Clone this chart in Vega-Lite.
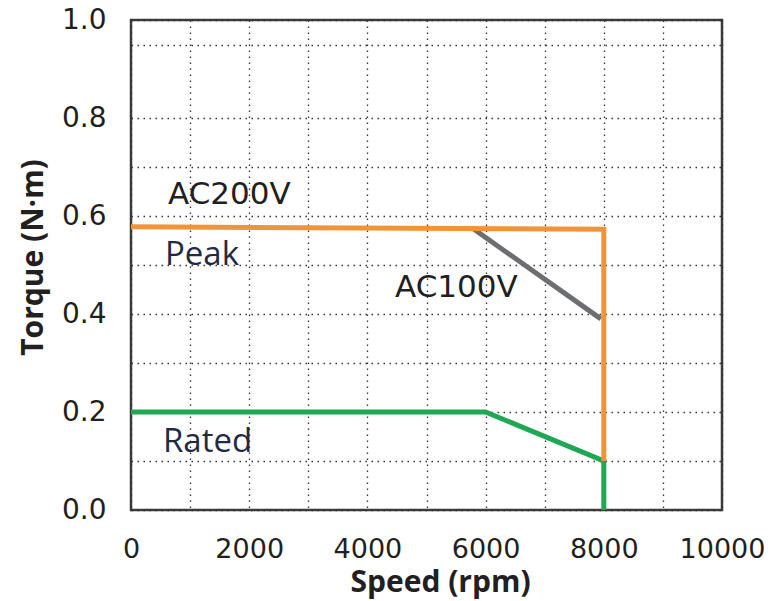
{
  "$schema": "https://vega.github.io/schema/vega-lite/v6.json",
  "width": 591,
  "height": 490,
  "autosize": {"type": "none"},
  "padding": {"left": 131, "top": 20, "right": 53, "bottom": 91},
  "background": "white",
  "config": {
    "view": {"stroke": "#3b3b3b", "strokeWidth": 2.5},
    "axis": {
      "ticks": false,
      "tickSize": 0,
      "domain": false,
      "grid": true,
      "gridColor": "#333333",
      "gridDash": [1.5, 4.5],
      "gridWidth": 1.3,
      "labelFont": "DejaVu Sans",
      "labelFontSize": 28,
      "labelColor": "#231f20",
      "labelOverlap": false,
      "labelFlush": false,
      "titleFont": "Open Sans",
      "titleFontWeight": "bold",
      "titleColor": "#231f20"
    }
  },
  "datasets": {
    "curves": [
      {"series": "Peak AC200V", "speed": 0, "torque": 0.578, "i": 1},
      {"series": "Peak AC200V", "speed": 8000, "torque": 0.573, "i": 2},
      {"series": "Peak AC200V", "speed": 8000, "torque": 0.1, "i": 3},
      {"series": "Peak AC100V", "speed": 5780, "torque": 0.575, "i": 1},
      {"series": "Peak AC100V", "speed": 7950, "torque": 0.39, "i": 2},
      {"series": "Rated", "speed": 0, "torque": 0.2, "i": 1},
      {"series": "Rated", "speed": 6000, "torque": 0.2, "i": 2},
      {"series": "Rated", "speed": 8000, "torque": 0.1, "i": 3},
      {"series": "Rated", "speed": 8000, "torque": 0, "i": 4}
    ],
    "labels": [
      {"label": "AC200V", "kind": "voltage", "speed": 626, "torque": 0.6245},
      {"label": "AC100V", "kind": "voltage", "speed": 4467, "torque": 0.435},
      {"label": "Peak", "kind": "curve", "speed": 575, "torque": 0.5},
      {"label": "Rated", "kind": "curve", "speed": 541, "torque": 0.118}
    ]
  },
  "encoding": {
    "x": {
      "field": "speed",
      "type": "quantitative",
      "scale": {"domain": [0, 10000], "nice": false, "zero": true},
      "axis": {
        "title": "Speed (rpm)",
        "values": [0, 1000, 2000, 3000, 4000, 5000, 6000, 7000, 8000, 9000, 10000],
        "labelExpr": "datum.value % 2000 === 0 ? format(datum.value, 'd') : ''",
        "labelPadding": 26,
        "labelFontSize": 27,
        "titleFontSize": 30,
        "titleX": 309,
        "titleY": 81,
        "titleAlign": "center",
        "titleBaseline": "alphabetic"
      }
    },
    "y": {
      "field": "torque",
      "type": "quantitative",
      "scale": {"domain": [0, 1], "nice": false},
      "axis": {
        "title": "Torque (N·m)",
        "values": [0, 0.1, 0.2, 0.3, 0.4, 0.5, 0.6, 0.7, 0.8, 0.95, 1],
        "labelExpr": "indexof([0, 0.2, 0.4, 0.6, 0.8, 1], datum.value) >= 0 ? format(datum.value, '.1f') : ''",
        "labelPadding": 25,
        "titleFontSize": 30,
        "titleAngle": -90,
        "titleX": -89,
        "titleY": 237,
        "titleAlign": "center",
        "titleBaseline": "alphabetic"
      }
    }
  },
  "layer": [
    {
      "data": {"name": "curves"},
      "transform": [{"filter": "datum.series === 'Peak AC100V'"}],
      "mark": {"type": "line", "color": "#6d6e71", "strokeWidth": 5},
      "encoding": {"order": {"field": "i", "type": "quantitative"}}
    },
    {
      "data": {"name": "curves"},
      "transform": [{"filter": "datum.series === 'Rated'"}],
      "mark": {"type": "line", "color": "#1fa853", "strokeWidth": 5},
      "encoding": {"order": {"field": "i", "type": "quantitative"}}
    },
    {
      "data": {"name": "curves"},
      "transform": [{"filter": "datum.series === 'Peak AC200V'"}],
      "mark": {"type": "line", "color": "#f0943a", "strokeWidth": 5},
      "encoding": {"order": {"field": "i", "type": "quantitative"}}
    },
    {
      "data": {"name": "labels"},
      "transform": [{"filter": "datum.kind === 'voltage'"}],
      "mark": {"type": "text", "font": "DejaVu Sans", "fontSize": 31, "color": "#231f20", "align": "left", "baseline": "alphabetic"},
      "encoding": {"text": {"field": "label"}}
    },
    {
      "data": {"name": "labels"},
      "transform": [{"filter": "datum.kind === 'curve'"}],
      "mark": {"type": "text", "font": "Open Sans", "fontSize": 33, "color": "#1f2a48", "align": "left", "baseline": "alphabetic"},
      "encoding": {"text": {"field": "label"}}
    }
  ]
}
